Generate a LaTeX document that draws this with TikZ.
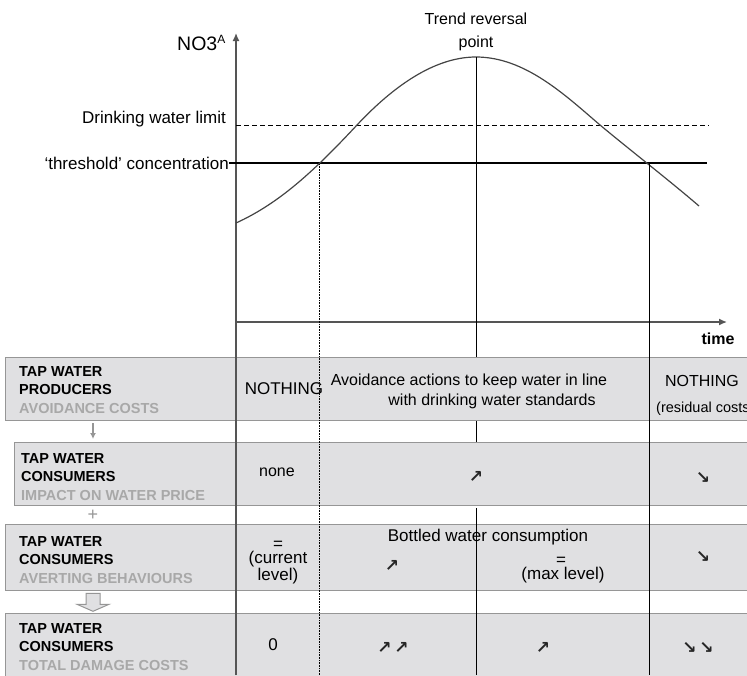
\documentclass[tikz,border=0pt]{standalone}
\usepackage{fontspec}
\setmainfont{Liberation Sans}
\newfontfamily\arrowfont{DejaVu Sans}
\usetikzlibrary{arrows.meta,calc}
\definecolor{boxfill}{RGB}{224,224,226}
\definecolor{boxline}{RGB}{150,150,150}
\definecolor{subtext}{RGB}{168,168,168}
\definecolor{axisgray}{RGB}{85,85,85}
\tikzset{
	rowbox/.style={draw=boxline, fill=boxfill, line width=1.3pt, anchor=north west, inner sep=0pt, minimum width=760pt},
	rowlabel/.style={anchor=west, align=left, inner sep=0pt, font=\fontsize{14.5}{18.8}\selectfont\bfseries},
	cell/.style={inner sep=0pt, align=center, font=\fontsize{16}{20}\selectfont},
	bigcell/.style={cell, font=\fontsize{17}{20}\selectfont},
	trendsym/.style={inner sep=0pt, font=\fontsize{17}{17}\selectfont\arrowfont\bfseries, text=black!85},
	axislabel/.style={anchor=east, inner sep=0pt, font=\fontsize{17}{20}\selectfont},
}
\begin{document}
\begin{tikzpicture}[x=1pt,y=-1pt]
		\useasboundingbox (0,0) rectangle (747,675);
		\clip (0,0) rectangle (747,675);

		% the four rows of the table
		\node[rowbox, minimum height=63pt] (prod) at (5,357) {};
		\node[rowbox, minimum height=63pt] (price) at (14,442) {};
		\node[rowbox, minimum height=66pt] (avert) at (5,524) {};
		\node[rowbox, minimum height=80pt] (total) at (5,613) {};

		% links between the rows
		\coordinate (cx) at (93,0);
		\draw[boxline, line width=1.5pt, -{Latex[length=6pt,width=6pt]}, shorten <=2pt, shorten >=3pt] (prod.south -| cx) -- (price.north -| cx);
		\node[text=boxline, font=\fontsize{18}{18}\selectfont, inner sep=0pt] (plus) at ($(price.south -| cx)!0.5!(avert.north -| cx)$) {+};
		\coordinate (blk) at ($(avert.south -| cx)+(0,2)$);
		\draw[boxline, fill=boxfill, line width=1pt] (blk) ++(-7,0) -- ++(14,0) -- ++(0,11) -- ++(9,0) -- ++(-16,7) -- ++(-16,-7) -- ++(9,0) -- cycle;

		% axes
		\coordinate (O) at (236,322);
		\draw[axisgray, line width=1.4pt, -{Latex[length=8pt,width=7pt]}] (236,675) -- (236,33);
		\draw[axisgray, line width=1.4pt, -{Latex[length=8pt,width=7pt]}] (O) -- (727,322);
		\node[inner sep=0pt, anchor=east, font=\fontsize{19.5}{20}\selectfont] (no3) at (226,43) {NO3\textsuperscript{\fontsize{12}{12}\selectfont A}};
		\node[inner sep=0pt, font=\fontsize{16}{16}\selectfont\bfseries] (time) at (718,339) {time};

		% limits
		\node[axislabel] (dwl) at (226,119) {Drinking water limit};
		\node[axislabel] (thr) at (229,163) {‘threshold’ concentration};
		\draw[line width=1pt, dash pattern=on 5pt off 3pt] (236,125) -- (709,125);
		\draw[line width=1.1pt] (thr.east) -- (707,163);

		% concentration curve
		\draw[line width=1.2pt, axisgray!80!black] (236,223) .. controls (280,203) and (315,170) .. (357,125)
			.. controls (387,93) and (430,57) .. (476,57)
			.. controls (525,57) and (565,95) .. (600,125)
			.. controls (630,150) and (670,181) .. (699,206);
		\coordinate (up) at (319,164);
		\coordinate (peak) at (476,57);
		\coordinate (down) at (649,163);
		\node[cell, font=\fontsize{16}{23}\selectfont] (trend) at (476,32) {Trend reversal\\point};

		% time marks down through the table
		\draw[densely dotted, line width=0.6pt] (up) -- (up |- 0,675);
		\draw[line width=1pt] (peak) -- (peak |- prod.north);
		\draw[line width=1pt] (peak |- prod.south) -- (peak |- price.north);
		\draw[line width=1pt] (peak |- 0,508) -- (peak |- 0,675);
		\draw[line width=1pt] (down) -- (down |- 0,675);
		\draw[axisgray, line width=1.4pt] (236,322) -- (236,675);

		% row headings
		\node[rowlabel] (h1) at (19,390) {TAP WATER\\PRODUCERS\\\textcolor{subtext}{AVOIDANCE COSTS}};
		\node[rowlabel] (h2) at (21,477) {TAP WATER\\CONSUMERS\\\textcolor{subtext}{IMPACT ON WATER PRICE}};
		\node[rowlabel] (h3) at (19,560) {TAP WATER\\CONSUMERS\\\textcolor{subtext}{AVERTING BEHAVIOURS}};
		\node[rowlabel] (h4) at (19,647) {TAP WATER\\CONSUMERS\\\textcolor{subtext}{TOTAL DAMAGE COSTS}};

		% producers
		\node[bigcell] (p1) at (284,389) {NOTHING};
		\node[cell] (p2a) at (469,381) {Avoidance actions to keep water in line};
		\node[cell] (p2b) at (492,401) {with drinking water standards};
		\node[cell] (p3) at (702,381) {NOTHING};
		\node[inner sep=0pt, anchor=west, font=\fontsize{14.5}{15}\selectfont] (p3b) at (656,409) {(residual costs)};

		% water price
		\node[cell] (w1) at (277,472) {none};
		\node[trendsym] (w2) at (476,477) {↗};
		\node[trendsym] (w3) at (703,478) {↘};

		% averting behaviours
		\node[bigcell, font=\fontsize{17}{14}\selectfont] (a1) at (278,563) {=\\(current\\level)};
		\node[bigcell] (a2) at (488,537) {Bottled water consumption};
		\node[trendsym] (a3) at (392,566) {↗};
		\node[bigcell] (a4) at (563,575) {(max level)};
		\node[bigcell] (a4eq) at (561,561) {=};
		\node[trendsym] (a5) at (703,557) {↘};

		% total damage
		\node[bigcell] (t1) at (273,645) {0};
		\node[trendsym] (t2) at (393,648) {↗\,↗};
		\node[trendsym] (t3) at (543,648) {↗};
		\node[trendsym] (t4) at (698,648) {↘\,↘};
	\end{tikzpicture}
\end{document}
